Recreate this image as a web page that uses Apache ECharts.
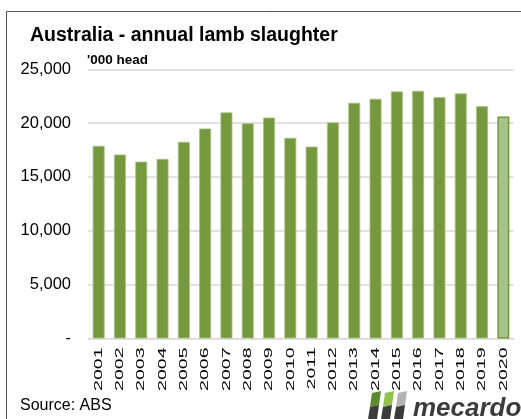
<!DOCTYPE html>
<html>
<head>
<meta charset="utf-8">
<script src="https://cdn.jsdelivr.net/npm/echarts@6/dist/echarts.min.js"></script>
<style>
  html, body { margin: 0; padding: 0; background: #fff; }
  #chart { width: 521px; height: 419px; }
</style>
</head>
<body>
<div id="chart"></div>
<script>
const years = ['2001', '2002', '2003', '2004', '2005', '2006', '2007', '2008', '2009', '2010',
  '2011', '2012', '2013', '2014', '2015', '2016', '2017', '2018', '2019', '2020']
// '000 head
const slaughter = [17890, 17080, 16420, 16680, 18260, 19500, 20990, 19990, 20520, 18630,
  17820, 20060, 21890, 22260, 22940, 23000, 22410, 22760, 21570, 20610]
// last year is shown as an estimate (lighter bar)
const estimateIndex = 19
const yTicks = [0, 5000, 10000, 15000, 20000, 25000]

const FONT = 'Liberation Sans, Arial, sans-serif'
const chart = echarts.init(document.getElementById('chart'))

const barData = slaughter.map(function (v, i) {
  if (i === estimateIndex) {
    return {
      value: v,
      itemStyle: { color: '#a9c289', borderColor: '#74973d', borderWidth: 1.5 }
    }
  }
  return v
})

// logo stripes
const stripeTop = ['#5b8c2b', '#8fc24c', '#b4b4b4']
const logo = []
for (let i = 0; i < 3; i++) {
  const x0 = 368 + i * 13
  logo.push({
    type: 'polygon',
    shape: { points: [[x0 + 4, 393], [x0 + 13, 391], [x0 + 11, 405], [x0 + 2, 407]] },
    style: { fill: stripeTop[i] }
  })
  logo.push({
    type: 'polygon',
    shape: { points: [[x0 + 2, 407], [x0 + 11, 405], [x0 + 9, 419], [x0, 419]] },
    style: { fill: '#3b3b3b' }
  })
}

const option = {
  animation: false,
  textStyle: { fontFamily: FONT },
  title: {
    text: 'Australia - annual lamb slaughter',
    left: 25,
    top: 21,
    textStyle: { fontSize: 19.5, fontWeight: 'bold', color: '#000' }
  },
  grid: { left: 88, right: 7, top: 69.3, bottom: 80.6 },
  xAxis: {
    type: 'category',
    data: years,
    axisTick: { show: false },
    axisLine: { lineStyle: { color: '#d9d9d9', width: 1 } },
    // labels are drawn below as stretched graphic text
    axisLabel: { show: false }
  },
  yAxis: {
    type: 'value',
    min: yTicks[0],
    max: yTicks[yTicks.length - 1],
    interval: 5000,
    splitLine: { lineStyle: { color: '#d9d9d9', width: 1.5 } },
    axisLine: { show: false },
    axisTick: { show: false },
    axisLabel: {
      fontSize: 16.5,
      color: '#000',
      margin: 17,
      formatter: function (v) {
        return v === 0 ? '-' : v.toLocaleString('en-US')
      }
    }
  },
  series: [{
    type: 'bar',
    data: barData,
    barWidth: '56%',
    itemStyle: { color: '#76993f', borderColor: '#a8c283', borderWidth: 0.8 }
  }],
  graphic: [
    {
      type: 'rect',
      shape: { x: 6.5, y: 11.5, width: 600, height: 500 },
      style: { fill: 'none', stroke: '#555', lineWidth: 1 },
      silent: true
    },
    {
      type: 'text',
      left: 87,
      top: 53,
      style: { text: "'000 head", fontSize: 13.5, fontWeight: 'bold', fill: '#000', fontFamily: FONT }
    },
    {
      type: 'text',
      left: 20,
      top: 398,
      style: { text: 'Source: ABS', fontSize: 16, fill: '#000', fontFamily: FONT }
    },
    {
      type: 'text',
      left: 413,
      top: 396,
      style: { text: 'mecardo', fontSize: 26, fontWeight: 'bold', fontStyle: 'italic', fill: '#3b3b3b', fontFamily: FONT }
    }
  ].concat(logo)
}

chart.setOption(option)

// category labels: rotated and stretched along the text, placed with the axis scale
const axisY = chart.convertToPixel({ yAxisIndex: 0 }, 0)
const yearLabels = years.map(function (y) {
  return {
    type: 'text',
    x: chart.convertToPixel({ xAxisIndex: 0 }, y),
    y: axisY + 9,
    rotation: Math.PI / 2,
    scaleX: 1.7,
    style: {
      text: y,
      fontSize: 11.5,
      fill: '#000',
      fontFamily: FONT,
      align: 'right',
      verticalAlign: 'middle'
    }
  }
})
chart.setOption({ graphic: option.graphic.concat(yearLabels) })
</script>
</body>
</html>
